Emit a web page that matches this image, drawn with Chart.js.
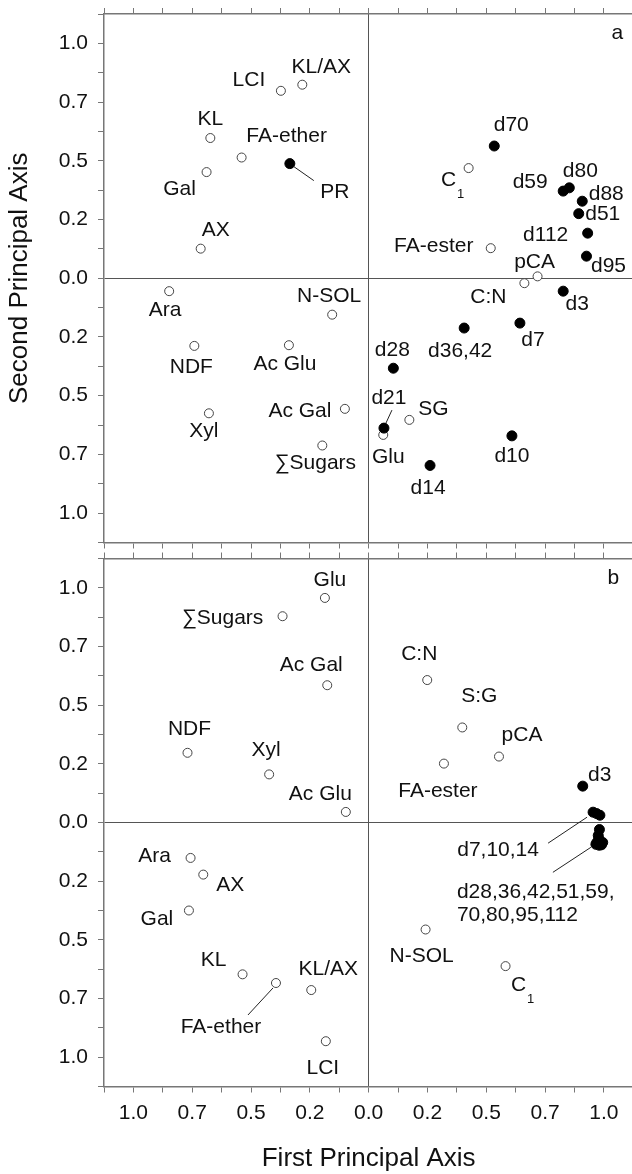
<!DOCTYPE html>
<html>
<head>
<meta charset="utf-8">
<script src="https://cdn.jsdelivr.net/npm/chart.js@4.4.0/dist/chart.umd.min.js"></script>
<style>
html, body { margin: 0; padding: 0; background: #fff; overflow: hidden; }
#wrap { position: relative; width: 632px; height: 1174px; overflow: hidden; }
canvas { position: absolute; left: 0; }
</style>
</head>
<body>
<div id="wrap">
  <canvas id="panelA" width="640" height="550" style="top:0"></canvas>
  <canvas id="panelB" width="640" height="624" style="top:550px"></canvas>
</div>
<script>
// axis ticks (every 0.125, labelled every 0.25 as in the original figure)
const axisMin = -1.125, axisMax = 1.125;
const tickValues = [-1.125, -1, -0.875, -0.75, -0.625, -0.5, -0.375, -0.25, -0.125, 0,
                    0.125, 0.25, 0.375, 0.5, 0.625, 0.75, 0.875, 1, 1.125];
const labelValues = [-1, -0.75, -0.5, -0.25, 0, 0.25, 0.5, 0.75, 1];
const labelTexts = ['1.0', '0.7', '0.5', '0.2', '0.0', '0.2', '0.5', '0.7', '1.0'];

// panel a - variables (open circles)
const aVarNames = ['LCI', 'KL/AX', 'KL', 'FA-ether', 'Gal', 'AX', 'Ara', 'NDF', 'Ac Glu', 'Xyl',
                   'N-SOL', 'Ac Gal', '∑Sugars', 'Glu', 'SG', 'C:N', 'pCA', 'FA-ester', 'C1'];
const aVarX = [-0.373, -0.282, -0.673, -0.540, -0.689, -0.714, -0.848, -0.741, -0.339, -0.679,
               -0.155, -0.101, -0.197, 0.062, 0.173, 0.662, 0.718, 0.519, 0.425];
const aVarY = [0.798, 0.824, 0.597, 0.514, 0.452, 0.126, -0.055, -0.288, -0.285, -0.575,
               -0.155, -0.556, -0.712, -0.667, -0.603, -0.021, 0.008, 0.128, 0.469];
// panel a - samples (filled)
const aSampleNames = ['PR', 'd70', 'd59', 'd80', 'd88', 'd51', 'd112', 'd95', 'd3', 'd7',
                      'd36,42', 'd28', 'd21', 'd10', 'd14'];
const aSampleX = [-0.335, 0.534, 0.827, 0.853, 0.908, 0.893, 0.931, 0.926, 0.827, 0.643,
                  0.406, 0.105, 0.065, 0.609, 0.261];
const aSampleY = [0.488, 0.563, 0.371, 0.385, 0.328, 0.275, 0.192, 0.094, -0.055, -0.191,
                  -0.212, -0.383, -0.638, -0.671, -0.797];

// panel b - variables
const bVarNames = ['Glu', '∑Sugars', 'Ac Gal', 'NDF', 'Xyl', 'Ac Glu', 'C:N', 'S:G', 'pCA', 'FA-ester',
                   'Ara', 'AX', 'Gal', 'KL', 'FA-ether', 'KL/AX', 'LCI', 'N-SOL', 'C1'];
const bVarX = [-0.186, -0.366, -0.176, -0.770, -0.423, -0.097, 0.249, 0.398, 0.554, 0.320,
               -0.757, -0.703, -0.764, -0.536, -0.394, -0.244, -0.182, 0.242, 0.582];
const bVarY = [0.957, 0.879, 0.585, 0.297, 0.205, 0.045, 0.607, 0.405, 0.281, 0.251,
               -0.151, -0.222, -0.375, -0.647, -0.684, -0.714, -0.932, -0.456, -0.612];
// panel b - samples
const bSampleNames = ['d3', 'd7', 'd10', 'd14', 'd28', 'd36', 'd42', 'd51', 'd59', 'd70', 'd80', 'd95', 'd112'];
const bSampleX = [0.910, 0.954, 0.969, 0.983, 0.981, 0.976, 0.978, 0.970, 0.995, 0.984, 0.966, 0.990, 0.980];
const bSampleY = [0.155, 0.044, 0.038, 0.031, -0.030, -0.055, -0.068, -0.085, -0.085, -0.090, -0.093, -0.095, -0.097];

// label placement (pixel offsets from the point), leader lines [x1,y1,x2,y2]
const aVarLabelPos = [[-32,-11],[19,-17],[0,-19],[45,-21],[-27,17],[15,-18],[-4,19],[-3,21],[-4,19],[-5,18],
                      [-3,-18],[-45,2],[-7,18],[5,22],[24,-11],[-36,14],[-3,-14],[-57,-2],[-20,12]];
const aSampleLabelPos = [[45,29],[17,-21],[-33,-9],[11,-17],[24,-7],[24,1],[-42,2],[22,10],[14,13],[13,17],
                         [-4,23],[-1,-18],[5,-30],[0,20],[-2,23]];
const aSampleLeaders = { 0: [4,3,24,17], 12: [2,-5,8,-18] };
const bVarLabelPos = [[5,-18],[-60,2],[-16,-20],[2,-24],[-3,-24],[-25.5,-18],[-8,-26],[17,-31],[23,-21],[-6,28],
                      [-36,-2],[27,11],[-32,9],[-29,-14],[-55,44],[17,-21],[-3,27],[-4,27],[13,19]];
const bVarLeaders = { 14: [-3,5,-28,32] };
const bSampleLabels = [
  { i: 0, lines: ['d3'], at: [17, -11] },
  { i: 1, lines: ['d7,10,14'], at: [-95, 38], leader: [-45, 31, -6, 5] },
  { i: 10, lines: ['d28,36,42,51,59,', '70,80,95,112'], at: [-139, 47.6], step: 23.4, align: 'left', leader: [-43, 28, -5, 3] }
];

const FONT = "'Liberation Sans', Arial, Helvetica, sans-serif";
Chart.defaults.font.family = FONT;
Chart.defaults.color = '#111';

function tickText(v) {
  const k = labelValues.findIndex(t => Math.abs(t - v) < 1e-9);
  return k < 0 ? '' : labelTexts[k];
}

function axis(position, size, showLabels, zeroLine, title) {
  const horizontal = position === 'top' || position === 'bottom';
  return {
    type: 'linear', position, min: axisMin, max: axisMax,
    afterBuildTicks: s => { s.ticks = tickValues.map(v => ({ value: v })); },
    ticks: { display: showLabels, autoSkip: false, maxRotation: 0, padding: horizontal ? 8 : 10,
             callback: tickText, font: { size: 21 }, color: '#111' },
    grid: { drawOnChartArea: zeroLine, lineWidth: 1, tickLength: 6, tickColor: '#777',
            color: c => (c.tick && c.tick.value === 0) ? '#555' : 'rgba(0,0,0,0)' },
    border: { display: true, color: '#777', width: 1.5 },
    title: title ? { display: true, text: title.text, font: { size: 26 }, color: '#111', padding: title.padding }
                 : { display: false },
    afterFit: s => {
      if (horizontal) s.height = size; else s.width = size;
      s.paddingLeft = 0; s.paddingRight = 0; s.paddingTop = 0; s.paddingBottom = 0;
    }
  };
}

function toPoints(xs, ys) { return xs.map((x, i) => ({ x, y: ys[i] })); }

function drawLabel(ctx, text, x, y) {
  if (text === 'C1') {
    ctx.font = '21px ' + FONT;
    ctx.fillText('C', x, y);
    ctx.font = '13px ' + FONT;
    ctx.fillText('1', x + 12, y + 14.5);
    ctx.font = '21px ' + FONT;
  } else {
    ctx.fillText(text, x, y);
  }
}

function line(ctx, px, py, l) {
  ctx.beginPath();
  ctx.moveTo(px + l[0], py + l[1]);
  ctx.lineTo(px + l[2], py + l[3]);
  ctx.stroke();
}

const pointLabels = {
  id: 'pointLabels',
  afterDatasetsDraw(chart, args, opts) {
    const ctx = chart.ctx;
    ctx.save();
    ctx.fillStyle = '#111';
    ctx.strokeStyle = '#222';
    ctx.lineWidth = 1;
    ctx.font = '21px ' + FONT;
    ctx.textAlign = 'center';
    ctx.textBaseline = 'middle';
    opts.groups.forEach(g => {
      const pts = chart.getDatasetMeta(g.ds).data;
      if (g.names) {
        g.names.forEach((n, i) => {
          const el = pts[i];
          drawLabel(ctx, n, el.x + g.pos[i][0], el.y + g.pos[i][1]);
          if (g.leaders && g.leaders[i]) line(ctx, el.x, el.y, g.leaders[i]);
        });
      }
      if (g.custom) {
        g.custom.forEach(c => {
          const el = pts[c.i];
          ctx.textAlign = c.align || 'center';
          c.lines.forEach((t, k) => ctx.fillText(t, el.x + c.at[0], el.y + c.at[1] + k * (c.step || 0)));
          ctx.textAlign = 'center';
          if (c.leader) line(ctx, el.x, el.y, c.leader);
        });
      }
    });
    const a = chart.chartArea;
    ctx.fillText(opts.letter, a.right + opts.letterAt[0], a.top + opts.letterAt[1]);
    ctx.restore();
  }
};

const openStyle = { pointRadius: 4.5, pointBorderWidth: 1, borderColor: '#444', backgroundColor: '#fff', showLine: false };
const filledStyle = { pointRadius: 5, pointBorderWidth: 1, borderColor: '#000', backgroundColor: '#000', showLine: false };

function makePanel(id, samples, vars, scales, labelOpts, pad) {
  return new Chart(document.getElementById(id), {
    type: 'scatter',
    data: {
      datasets: [
        Object.assign({ label: 'samples', data: samples }, filledStyle),
        Object.assign({ label: 'variables', data: vars }, openStyle)
      ]
    },
    options: {
      responsive: false, animation: false,
      layout: { padding: pad },
      plugins: { legend: { display: false }, tooltip: { enabled: false }, pointLabels: labelOpts },
      scales
    },
    plugins: [pointLabels]
  });
}

// panel a
makePanel('panelA',
  toPoints(aSampleX, aSampleY),
  toPoints(aVarX, aVarY),
  {
    x: axis('bottom', 7.5, false, true),
    xTop: axis('top', 14, false, false),
    y: axis('left', 104, true, true, { text: 'Second Principal Axis', padding: { top: 4, bottom: 0 } })
  },
  {
    letter: 'a', letterAt: [-16, 19],
    groups: [
      { ds: 0, names: aSampleNames, pos: aSampleLabelPos, leaders: aSampleLeaders },
      { ds: 1, names: aVarNames, pos: aVarLabelPos }
    ]
  },
  { left: 0, right: 6.7, top: 0, bottom: 0 }
);

// panel b
makePanel('panelB',
  toPoints(bSampleX, bSampleY),
  toPoints(bVarX, bVarY),
  {
    x: axis('bottom', 87.5, true, true, { text: 'First Principal Axis', padding: { top: 0, bottom: 0 } }),
    xTop: axis('top', 8.5, false, false),
    y: axis('left', 104, true, true)
  },
  {
    letter: 'b', letterAt: [-20, 20],
    groups: [
      { ds: 0, custom: bSampleLabels },
      { ds: 1, names: bVarNames, pos: bVarLabelPos, leaders: bVarLeaders }
    ]
  },
  { left: 0, right: 6.7, top: 0, bottom: 0 }
);
</script>
</body>
</html>
